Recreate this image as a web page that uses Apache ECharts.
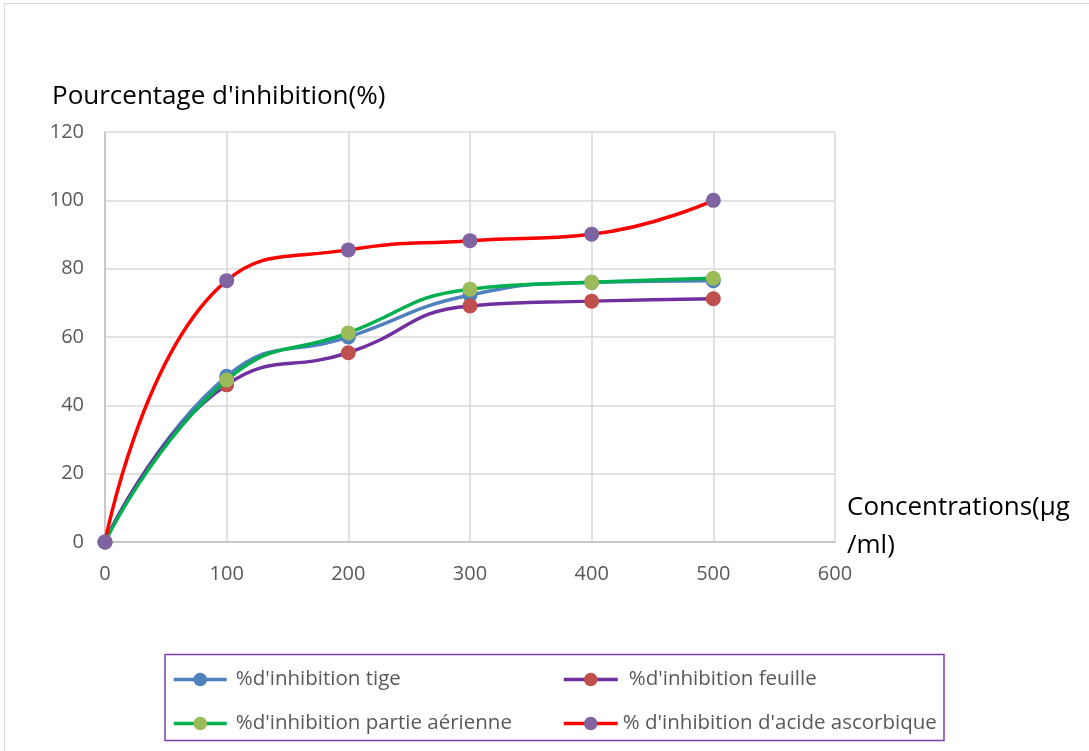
<!DOCTYPE html>
<html>
<head>
<meta charset="utf-8">
<style>
  html, body { margin: 0; padding: 0; background: #ffffff; }
  #chart { width: 1089px; height: 751px; }
</style>
<script src="https://cdn.jsdelivr.net/npm/echarts@6/dist/echarts.min.js"></script>
</head>
<body>
<div id="chart"></div>
<script>
// Concentrations (µg/ml)
var concentrations = [0, 100, 200, 300, 400, 500];

// Percentage of inhibition per extract
var tige = [0, 48.5, 60.0, 72.3, 76.0, 76.5];
var feuille = [0, 46.0, 55.4, 69.1, 70.5, 71.2];
var partieAerienne = [0, 47.4, 61.2, 74.0, 76.0, 77.2];
var acideAscorbique = [0, 76.5, 85.5, 88.2, 90.1, 100.0];

var seriesNames = [
  "%d'inhibition tige",
  "%d'inhibition feuille",
  "%d'inhibition partie aérienne",
  "% d'inhibition d'acide ascorbique"
];

var fontFamily = "'Open Sans', 'Liberation Sans', sans-serif";

function pairs(values) {
  return concentrations.map(function (c, i) { return [c, values[i]]; });
}

function makeSeries(name, values, lineColor, markerColor, z) {
  return {
    name: name,
    type: 'line',
    data: pairs(values),
    smooth: 0.5,
    symbol: 'circle',
    symbolSize: 15,
    z: z,
    lineStyle: { color: lineColor, width: 3.5 },
    itemStyle: { color: markerColor, borderWidth: 0 },
    emphasis: { disabled: true }
  };
}

var chart = echarts.init(document.getElementById('chart'));

function legendItem(name, left, top, itemWidth, textPad) {
  return {
    data: [name],
    left: left,
    top: top,
    padding: 0,
    orient: 'horizontal',
    itemWidth: itemWidth,
    itemHeight: 17,
    selectedMode: false,
    lineStyle: { width: 3.5 },
    textStyle: {
      color: '#595959', fontSize: 20.5, fontFamily: fontFamily,
      padding: [0, 0, 0, textPad]
    }
  };
}

chart.setOption({
  animation: false,
  backgroundColor: '#ffffff',
  grid: { left: 105, top: 132, right: 254, bottom: 209, containLabel: false },
  xAxis: {
    type: 'value',
    min: 0,
    max: 600,
    interval: 100,
    axisLine: { show: true, onZero: false, lineStyle: { color: '#bfbfbf', width: 1.5 } },
    axisTick: { show: false },
    axisLabel: { color: '#595959', fontSize: 20, fontFamily: fontFamily, margin: 22 },
    splitLine: { show: true, lineStyle: { color: '#d9d9d9', width: 1.5 } }
  },
  yAxis: {
    type: 'value',
    min: 0,
    max: 120,
    interval: 20,
    axisLine: { show: true, lineStyle: { color: '#bfbfbf', width: 1.5 } },
    axisTick: { show: false },
    axisLabel: { color: '#595959', fontSize: 20, fontFamily: fontFamily, margin: 21 },
    splitLine: { show: true, lineStyle: { color: '#d9d9d9', width: 1.5 } }
  },
  legend: [
    legendItem(seriesNames[0], 172, 669, 53, 4),
    legendItem(seriesNames[1], 562, 669, 54, 6),
    legendItem(seriesNames[2], 172, 713, 53, 4),
    legendItem(seriesNames[3], 562, 713, 54, 0)
  ],
  graphic: [
    {
      type: 'rect',
      shape: { x: 4.5, y: 3.5, width: 1100, height: 760 },
      style: { fill: 'none', stroke: '#d9d9d9', lineWidth: 1 },
      silent: true
    },
    {
      type: 'rect',
      shape: { x: 165, y: 654.5, width: 779, height: 86 },
      style: { fill: 'none', stroke: '#7a3fae', lineWidth: 1.5 },
      silent: true
    },
    {
      type: 'text',
      left: 52,
      top: 84,
      style: { text: "Pourcentage d'inhibition(%)", fill: '#000000', fontSize: 26, fontFamily: fontFamily }
    },
    {
      type: 'text',
      left: 847,
      top: 495,
      style: { text: 'Concentrations(µg', fill: '#000000', fontSize: 26, fontFamily: fontFamily }
    },
    {
      type: 'text',
      left: 847,
      top: 533,
      style: { text: '/ml)', fill: '#000000', fontSize: 26, fontFamily: fontFamily }
    }
  ],
  series: [
    makeSeries(seriesNames[0], tige, '#4f81bd', '#4f81bd', 2),
    makeSeries(seriesNames[1], feuille, '#7030a0', '#c0504d', 3),
    makeSeries(seriesNames[2], partieAerienne, '#00b050', '#9bbb59', 4),
    makeSeries(seriesNames[3], acideAscorbique, '#ff0000', '#8064a2', 5)
  ]
});
</script>
</body>
</html>
